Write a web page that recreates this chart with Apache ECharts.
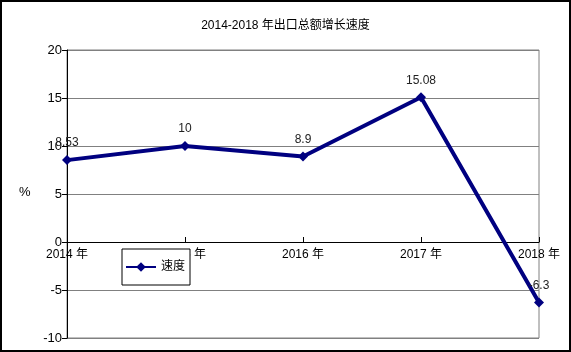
<!DOCTYPE html>
<html>
<head>
<meta charset="utf-8">
<script src="https://cdn.jsdelivr.net/npm/echarts@6/dist/echarts.min.js"></script>
<style>
  html, body { margin: 0; padding: 0; background: #fff; }
  #chart { width: 571px; height: 352px; }
</style>
</head>
<body>
<div id="chart"></div>
<script>
// 数据
var years = ['2014 年', '2015 年', '2016 年', '2017 年', '2018 年']
var speed = [8.53, 10, 8.9, 15.08, -6.3]
var seriesName = '速度'
var titleText = '2014-2018 年出口总额增长速度'

var font = 'Liberation Sans, Arial, Noto Sans CJK SC, sans-serif'

var chart = echarts.init(document.getElementById('chart'))
chart.setOption({
  backgroundColor: '#fff',
  animation: false,
  textStyle: { fontFamily: font },
  title: {
    text: titleText,
    left: 'center',
    top: 15,
    textStyle: { fontSize: 12, fontWeight: 'normal', color: '#000', fontFamily: font }
  },
  graphic: [{
    type: 'rect',
    shape: { x: 1, y: 1, width: 569, height: 350 },
    style: { fill: 'none', stroke: '#000', lineWidth: 2 },
    z: 100
  }, {
    type: 'text',
    left: 19,
    top: 186,
    style: { text: '%', fontSize: 13, fill: '#000', fontFamily: font }
  }],
  legend: {
    left: 122,
    top: 249,
    data: [seriesName],
    backgroundColor: '#fff',
    borderColor: '#000',
    borderWidth: 1,
    borderRadius: 0,
    padding: [12, 5, 12, 3],
    itemWidth: 30,
    itemHeight: 12,
    itemGap: 4,
    textStyle: { fontSize: 12, color: '#000', fontFamily: font },
    z: 20
  },
  grid: {
    left: 67,
    right: 32,
    top: 50,
    bottom: 14,
    show: true,
    borderColor: '#808080',
    borderWidth: 1,
    containLabel: false
  },
  xAxis: {
    type: 'category',
    data: years,
    boundaryGap: false,
    offset: -96,
    axisLine: { onZero: false, lineStyle: { color: '#000', width: 1 } },
    axisTick: { show: true, inside: true, length: 5, lineStyle: { color: '#000' } },
    axisLabel: { color: '#000', fontSize: 12, margin: 7, fontFamily: font, showMinLabel: true, showMaxLabel: true, interval: 0 },
    splitLine: { show: false }
  },
  yAxis: {
    type: 'value',
    min: -10,
    max: 20,
    interval: 5,
    axisLine: { show: true, lineStyle: { color: '#000' } },
    axisTick: { show: true, length: 5, lineStyle: { color: '#000' } },
    axisLabel: { color: '#000', fontSize: 13, margin: 5, fontFamily: font },
    splitLine: { show: true, lineStyle: { color: '#808080', width: 1 } }
  },
  series: [{
    name: seriesName,
    type: 'line',
    data: speed,
    symbol: 'diamond',
    symbolSize: 10,
    itemStyle: { color: '#000080' },
    lineStyle: { color: '#000080', width: 4 },
    label: {
      show: true,
      position: 'top',
      distance: 6,
      color: '#222',
      fontSize: 12,
      fontFamily: font
    },
    z: 10
  }]
})
</script>
</body>
</html>
